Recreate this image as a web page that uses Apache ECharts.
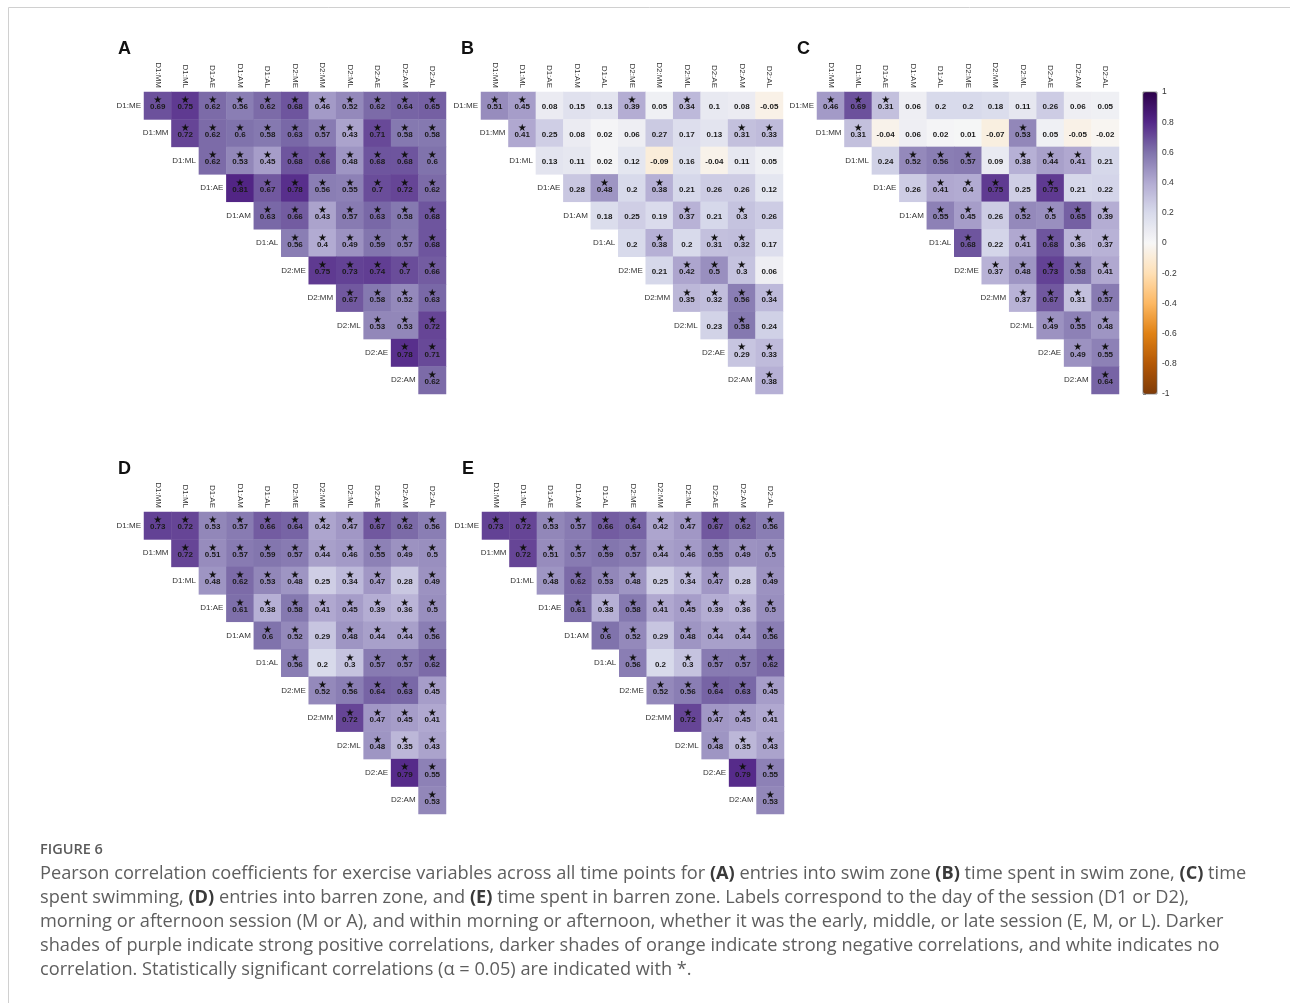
<!DOCTYPE html>
<html>
<head>
<meta charset="utf-8">
<script src="https://cdn.jsdelivr.net/npm/echarts@6/dist/echarts.min.js"></script>
<style>
  html, body { margin: 0; padding: 0; background: #ffffff; }
  #chart { width: 1290px; height: 1003px; }
</style>
</head>
<body>
<div id="chart"></div>
<script>
// Session variables: day (D1/D2), morning/afternoon (M/A), early/middle/late (E/M/L)
const varNames = ['D1:ME', 'D1:MM', 'D1:ML', 'D1:AE', 'D1:AM', 'D1:AL',
                  'D2:ME', 'D2:MM', 'D2:ML', 'D2:AE', 'D2:AM', 'D2:AL'];
const rowNames = varNames.slice(0, 11);
const colNames = varNames.slice(1);

// Upper-triangle Pearson r, one row per variable (starting at the diagonal neighbour)
const swimEntries = [
  [0.69, 0.75, 0.62, 0.56, 0.62, 0.68, 0.46, 0.52, 0.62, 0.64, 0.65],
  [0.72, 0.62, 0.6, 0.58, 0.63, 0.57, 0.43, 0.71, 0.58, 0.58],
  [0.62, 0.53, 0.45, 0.68, 0.66, 0.48, 0.68, 0.68, 0.6],
  [0.81, 0.67, 0.78, 0.56, 0.55, 0.7, 0.72, 0.62],
  [0.63, 0.66, 0.43, 0.57, 0.63, 0.58, 0.68],
  [0.56, 0.4, 0.49, 0.59, 0.57, 0.68],
  [0.75, 0.73, 0.74, 0.7, 0.66],
  [0.67, 0.58, 0.52, 0.63],
  [0.53, 0.53, 0.72],
  [0.78, 0.71],
  [0.62]
];
const swimEntriesSig = ['***********', '**********', '*********', '********', '*******',
                        '******', '*****', '****', '***', '**', '*'];

const swimTime = [
  [0.51, 0.45, 0.08, 0.15, 0.13, 0.39, 0.05, 0.34, 0.1, 0.08, -0.05],
  [0.41, 0.25, 0.08, 0.02, 0.06, 0.27, 0.17, 0.13, 0.31, 0.33],
  [0.13, 0.11, 0.02, 0.12, -0.09, 0.16, -0.04, 0.11, 0.05],
  [0.28, 0.48, 0.2, 0.38, 0.21, 0.26, 0.26, 0.12],
  [0.18, 0.25, 0.19, 0.37, 0.21, 0.3, 0.26],
  [0.2, 0.38, 0.2, 0.31, 0.32, 0.17],
  [0.21, 0.42, 0.5, 0.3, 0.06],
  [0.35, 0.32, 0.56, 0.34],
  [0.23, 0.58, 0.24],
  [0.29, 0.33],
  [0.38]
];
const swimTimeSig = ['**...*.*...', '*.......**', '.........', '.*.*....', '...*.*.',
                     '.*.**.', '.***.', '****', '.*.', '**', '*'];

const swimming = [
  [0.46, 0.69, 0.31, 0.06, 0.2, 0.2, 0.18, 0.11, 0.26, 0.06, 0.05],
  [0.31, -0.04, 0.06, 0.02, 0.01, -0.07, 0.53, 0.05, -0.05, -0.02],
  [0.24, 0.52, 0.56, 0.57, 0.09, 0.38, 0.44, 0.41, 0.21],
  [0.26, 0.41, 0.4, 0.75, 0.25, 0.75, 0.21, 0.22],
  [0.55, 0.45, 0.26, 0.52, 0.5, 0.65, 0.39],
  [0.68, 0.22, 0.41, 0.68, 0.36, 0.37],
  [0.37, 0.48, 0.73, 0.58, 0.41],
  [0.37, 0.67, 0.31, 0.57],
  [0.49, 0.55, 0.48],
  [0.49, 0.55],
  [0.64]
];
const swimmingSig = ['***........', '*.....*...', '.***.***.', '.***.*..', '**.****',
                     '*.****', '*****', '****', '***', '**', '*'];

const barrenEntries = [
  [0.73, 0.72, 0.53, 0.57, 0.66, 0.64, 0.42, 0.47, 0.67, 0.62, 0.56],
  [0.72, 0.51, 0.57, 0.59, 0.57, 0.44, 0.46, 0.55, 0.49, 0.5],
  [0.48, 0.62, 0.53, 0.48, 0.25, 0.34, 0.47, 0.28, 0.49],
  [0.61, 0.38, 0.58, 0.41, 0.45, 0.39, 0.36, 0.5],
  [0.6, 0.52, 0.29, 0.48, 0.44, 0.44, 0.56],
  [0.56, 0.2, 0.3, 0.57, 0.57, 0.62],
  [0.52, 0.56, 0.64, 0.63, 0.45],
  [0.72, 0.47, 0.45, 0.41],
  [0.48, 0.35, 0.43],
  [0.79, 0.55],
  [0.53]
];
const barrenEntriesSig = ['***********', '**********', '****.**.*', '********', '**.****',
                          '*.****', '*****', '****', '***', '**', '*'];

const barrenTime = [
  [0.73, 0.72, 0.53, 0.57, 0.66, 0.64, 0.42, 0.47, 0.67, 0.62, 0.56],
  [0.72, 0.51, 0.57, 0.59, 0.57, 0.44, 0.46, 0.55, 0.49, 0.5],
  [0.48, 0.62, 0.53, 0.48, 0.25, 0.34, 0.47, 0.28, 0.49],
  [0.61, 0.38, 0.58, 0.41, 0.45, 0.39, 0.36, 0.5],
  [0.6, 0.52, 0.29, 0.48, 0.44, 0.44, 0.56],
  [0.56, 0.2, 0.3, 0.57, 0.57, 0.62],
  [0.52, 0.56, 0.64, 0.63, 0.45],
  [0.72, 0.47, 0.45, 0.41],
  [0.48, 0.35, 0.43],
  [0.79, 0.55],
  [0.53]
];
const barrenTimeSig = ['***********', '**********', '****.**.*', '********', '**.****',
                       '*.****', '*****', '****', '***', '**', '*'];

const colorbarTicks = { min: -1, max: 1, step: 0.2 };
const puOr = ['#7f3b08', '#b35806', '#e08214', '#fdb863', '#fee0b6', '#f7f7f7',
              '#d8daeb', '#b2abd2', '#8073ac', '#542788', '#2d004b'];

// Panel placement on the page
const panels = [
  { letter: 'A', values: swimEntries,   sig: swimEntriesSig,   left: 144, top: 92 },
  { letter: 'B', values: swimTime,      sig: swimTimeSig,      left: 481, top: 92 },
  { letter: 'C', values: swimming,      sig: swimmingSig,      left: 817, top: 92 },
  { letter: 'D', values: barrenEntries, sig: barrenEntriesSig, left: 144, top: 512 },
  { letter: 'E', values: barrenTime,    sig: barrenTimeSig,    left: 482, top: 512 }
];
const SIDE = 302;
const FONT = '"Liberation Sans", Arial, sans-serif';
const CAPTION_FONT = '"Open Sans", sans-serif';

const chart = echarts.init(document.getElementById('chart'), null, { renderer: 'canvas' });

const grids = [], xAxes = [], yAxes = [], heatSeries = [], extraSeries = [], graphics = [];

panels.forEach((p, gi) => {
  grids.push({ left: p.left, top: p.top, width: SIDE, height: SIDE, containLabel: false });
  xAxes.push({
    gridIndex: gi, type: 'category', data: colNames, position: 'top',
    axisLine: { show: false }, axisTick: { show: false }, splitLine: { show: false },
    axisLabel: { rotate: 90, fontSize: 8, color: '#333', margin: 4, fontFamily: FONT, interval: 0 }
  });
  yAxes.push({
    gridIndex: gi, type: 'category', data: rowNames, inverse: true,
    axisLine: { show: false }, axisTick: { show: false }, splitLine: { show: false },
    axisLabel: { show: false }
  });

  const cells = [], stars = [];
  p.values.forEach((row, r) => {
    row.forEach((v, k) => {
      const c = r + k;
      cells.push([c, r, v]);
      if (p.sig[r][k] === '*') stars.push([c, r]);
    });
  });

  heatSeries.push({
    type: 'heatmap', xAxisIndex: gi, yAxisIndex: gi, data: cells,
    label: {
      show: true, fontSize: 8, fontWeight: 'bold', color: '#1a1a1a', fontFamily: FONT,
      offset: [0, 1.5],
      formatter: (prm) => String(prm.data[2])
    },
    itemStyle: { borderWidth: 0 },
    emphasis: { disabled: true }
  });

  // significance markers above the coefficient
  extraSeries.push({
    type: 'custom', xAxisIndex: gi, yAxisIndex: gi, data: stars, silent: true, z: 5,
    renderItem: (params, api) => {
      const pt = api.coord([api.value(0), api.value(1)]);
      return {
        type: 'text', x: pt[0], y: pt[1] - 5,
        style: { text: '★', fontSize: 10, fill: '#111', align: 'center', verticalAlign: 'middle',
                 fontFamily: '"DejaVu Sans", sans-serif' }
      };
    }
  });

  // row names sit to the left of each row's first cell
  extraSeries.push({
    type: 'custom', xAxisIndex: gi, yAxisIndex: gi, silent: true, z: 5,
    data: rowNames.map((n, i) => [i, i]),
    renderItem: (params, api) => {
      const pt = api.coord([api.value(0), api.value(1)]);
      const w = api.size([1, 0])[0];
      return {
        type: 'text', x: pt[0] - w / 2 - 3, y: pt[1],
        style: { text: rowNames[params.dataIndex], fontSize: 8, fill: '#333',
                 align: 'right', verticalAlign: 'middle', fontFamily: FONT }
      };
    }
  });

  graphics.push({
    type: 'text', left: p.left - (gi === 0 || gi === 3 ? 26 : 20), top: p.top - 52,
    style: { text: p.letter, fontSize: 18, fontWeight: 'bold', fill: '#111', fontFamily: FONT }
  });
});

// colour bar frame with its tick axis
const cbIndex = panels.length;
grids.push({ left: 1143, top: 92, width: 14, height: SIDE, show: true, z: 10,
             borderColor: '#666', borderWidth: 0.7, backgroundColor: 'transparent' });
xAxes.push({ gridIndex: cbIndex, type: 'value', min: 0, max: 1, show: false });
yAxes.push({
  gridIndex: cbIndex, type: 'value', position: 'right',
  min: colorbarTicks.min, max: colorbarTicks.max, interval: colorbarTicks.step,
  axisLine: { show: false }, splitLine: { show: false },
  axisTick: { show: true, length: 3, lineStyle: { color: '#666', width: 0.7 } },
  axisLabel: { fontSize: 8.5, color: '#333', margin: 5, fontFamily: FONT }
});

// caption
const captionLines = [
  'Pearson correlation coefficients for exercise variables across all time points for {b|(A)} entries into swim zone {b|(B)} time spent in swim zone, {b|(C)} time',
  'spent swimming, {b|(D)} entries into barren zone, and {b|(E)} time spent in barren zone. Labels correspond to the day of the session (D1 or D2),',
  'morning or afternoon session (M or A), and within morning or afternoon, whether it was the early, middle, or late session (E, M, or L). Darker',
  'shades of purple indicate strong positive correlations, darker shades of orange indicate strong negative correlations, and white indicates no',
  'correlation. Statistically significant correlations (\u03b1 = 0.05) are indicated with *.'
];
graphics.push(
  { type: 'line', shape: { x1: 8.5, y1: 7.5, x2: 1290, y2: 7.5 }, style: { stroke: '#d0d0d0', lineWidth: 1 } },
  { type: 'line', shape: { x1: 8.5, y1: 7.5, x2: 8.5, y2: 1003 }, style: { stroke: '#d0d0d0', lineWidth: 1 } },
  { type: 'text', left: 40, top: 842,
    style: { text: 'FIGURE 6', fontSize: 14.5, fontWeight: 600, fill: '#5a5a5a', fontFamily: CAPTION_FONT } },
  { type: 'text', left: 40, top: 862,
    style: {
      text: captionLines.join('\n'), fontSize: 18.2, lineHeight: 24, fill: '#5e5e5e',
      fontFamily: CAPTION_FONT,
      rich: { b: { fontSize: 18.2, lineHeight: 24, fontWeight: 'bold', fill: '#3a3a3a', fontFamily: CAPTION_FONT } }
    } }
);

chart.setOption({
  backgroundColor: '#ffffff',
  animation: false,
  grid: grids,
  xAxis: xAxes,
  yAxis: yAxes,
  visualMap: {
    type: 'continuous', min: -1, max: 1, seriesIndex: heatSeries.map((s, i) => i),
    orient: 'vertical', left: 1143, top: 92, itemWidth: 14, itemHeight: SIDE,
    padding: 0, calculable: false, hoverLink: false, text: null, showLabel: false,
    inRange: { color: puOr }
  },
  series: heatSeries.concat(extraSeries),
  graphic: graphics
});
</script>
</body>
</html>
